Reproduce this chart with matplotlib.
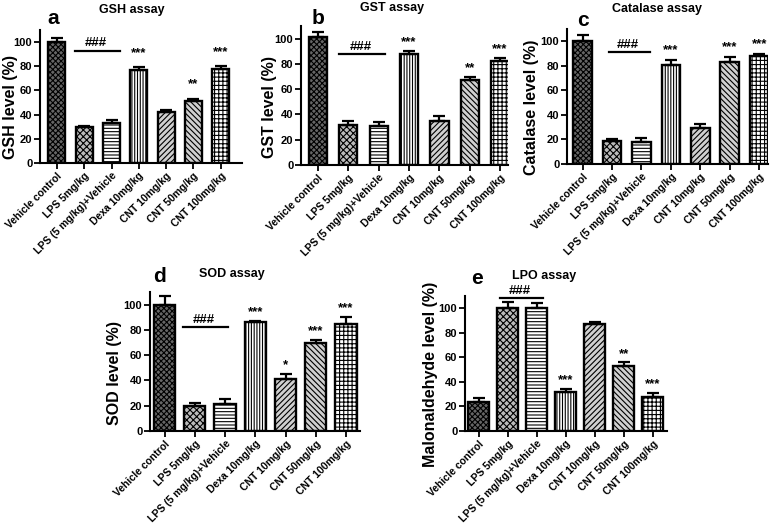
import numpy as np
import matplotlib
matplotlib.use('Agg')
import matplotlib.pyplot as plt
import matplotlib as mpl

mpl.rcParams['font.family'] = ['Liberation Sans', 'DejaVu Sans']
mpl.rcParams['font.weight'] = 'bold'
mpl.rcParams['hatch.linewidth'] = 0.8
mpl.rcParams['hatch.color'] = 'black'

groups = ['Vehicle control', 'LPS 5mg/kg', 'LPS (5 mg/kg)+Vehicle', 'Dexa 10mg/kg',
          'CNT 10mg/kg', 'CNT 50mg/kg', 'CNT 100mg/kg']

gsh_mean = [100, 29.5, 33, 77, 42, 51, 78]
gsh_err = [3, 1.5, 2.5, 2, 2, 2, 2]
gsh_stars = ['', '', '', '***', '', '**', '***']

gst_mean = [101, 32, 31, 88, 35, 67, 82]
gst_err = [4, 3, 3, 2, 4, 3, 2.5]
gst_stars = ['', '', '', '***', '', '**', '***']

cat_mean = [100, 19, 18, 81, 29, 83, 88]
cat_err = [5, 1, 3.5, 3.5, 3.5, 4.5, 1.5]
cat_stars = ['', '', '', '***', '', '***', '***']

sod_mean = [100, 20, 21, 86, 41, 70, 85]
sod_err = [7, 2, 4, 1, 4, 2, 5]
sod_stars = ['', '', '', '***', '*', '***', '***']

lpo_mean = [24, 100, 100, 32, 87, 53, 28]
lpo_err = [3, 5, 4, 2.5, 1.5, 3, 3]
lpo_stars = ['', '', '', '***', '', '**', '***']

hatches = ['xxxxxx', 'xxxxx', '-----', '||||||', '//////', '\\\\\\\\\\\\', '++++']
faces = ['#666666', '#bbbbbb', 'white', 'white', '#d0d0d0', '#d0d0d0', 'white']

W, H = 778, 527
fig = plt.figure(figsize=(W / 100, H / 100), dpi=100)


def panel(rect, xlim, width, mean, err, stars, ylabel, title, letter,
          hash_y, hash_span, star_off, label_x, title_xy, letter_xy):
    left, right, base, top = rect
    ax = fig.add_axes([left / W, 1 - base / H, (right - left) / W, (base - top) / H])
    x = np.arange(len(groups))
    ax.bar(x, mean, width, color=faces, edgecolor='black', linewidth=1.7, zorder=2)
    for i, p in enumerate(ax.patches):
        p.set_hatch(hatches[i])
    ax.errorbar(x, mean, yerr=[np.zeros(len(err)), err], fmt='none', ecolor='black',
                elinewidth=1.6, capsize=4, capthick=1.6, zorder=3)
    for i, s in enumerate(stars):
        if s:
            ax.text(x[i], mean[i] + err[i] + star_off, s, ha='center', va='center',
                    fontsize=9.5, fontweight='bold')
    ax.plot(hash_span, [hash_y, hash_y], color='black', lw=1.6, clip_on=False)
    ax.text(np.mean(hash_span) - 0.05, hash_y + 1, '###', ha='center', va='bottom',
            fontsize=9.5, fontweight='bold', clip_on=False)
    ax.set_xlim(*xlim)
    ax.set_ylim(0, 110)
    ax.set_yticks([0, 20, 40, 60, 80, 100])
    ax.set_xticks(x)
    ax.set_xticklabels(groups, rotation=45, ha='right', rotation_mode='anchor',
                       fontsize=7.5, fontweight='bold')
    for t in ax.get_yticklabels():
        t.set_fontsize(8)
        t.set_fontweight('bold')
    ax.tick_params(width=1.3, length=4, pad=1.5)
    for sp in ['top', 'right']:
        ax.spines[sp].set_visible(False)
    for sp in ['left', 'bottom']:
        ax.spines[sp].set_linewidth(1.5)
    ax.set_ylabel(ylabel, fontsize=11.5, fontweight='bold')
    ax.yaxis.set_label_coords((label_x - left) / (right - left), 0.42)
    fig.text(title_xy[0] / W, 1 - title_xy[1] / H, title, ha='center', va='center',
             fontsize=9, fontweight='bold')
    fig.text(letter_xy[0] / W, 1 - letter_xy[1] / H, letter, ha='center', va='center',
             fontsize=15, fontweight='bold')
    return ax


panel((40, 242, 163, 30), (-0.62, 6.78), 0.62, gsh_mean, gsh_err, gsh_stars,
      'GSH level (%)', 'GSH assay', 'a', 93, (0.65, 2.3), 12, 18, (132, 10), (53, 19))
panel((301, 508, 165, 26), (-0.56, 6.26), 0.6, gst_mean, gst_err, gst_stars,
      'GST level (%)', 'GST assay', 'b', 88, (0.7, 2.2), 7, 277, (392, 8), (318, 18))
panel((567, 768, 164, 29), (-0.53, 6.3), 0.63, cat_mean, cat_err, cat_stars,
      'Catalase level (%)', 'Catalase assay', 'c', 91, (0.9, 2.3), 8, 539, (657, 9), (583, 20))
panel((150, 360, 431, 292), (-0.48, 6.46), 0.7, sod_mean, sod_err, sod_stars,
      'SOD level (%)', 'SOD assay', 'd', 82, (0.6, 2.1), 7, 122, (232, 274), (160, 277))
panel((465, 667, 431, 296), (-0.48, 6.5), 0.72, lpo_mean, lpo_err, lpo_stars,
      'Malonaldehyde level (%)', 'LPO assay', 'e', 108, (0.73, 2.2), 7, 438, (544, 276), (477, 278))

plt.savefig('out.png', dpi=100)
